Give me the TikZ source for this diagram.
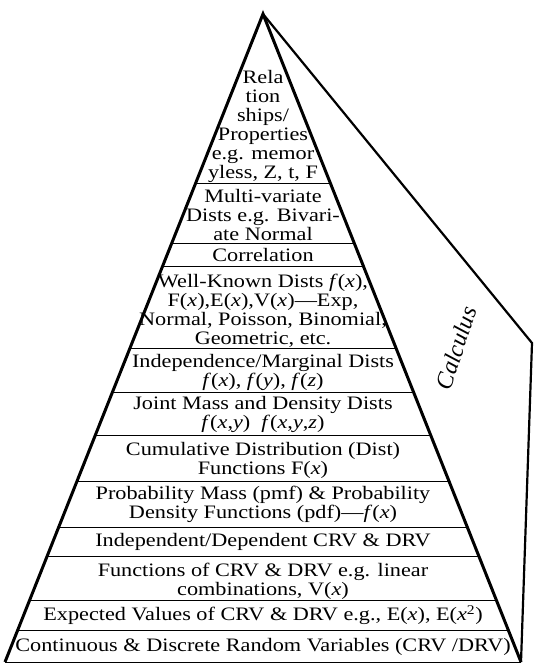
\documentclass[tikz,border=0pt]{standalone}
\usepackage{fontspec}
\setmainfont[FakeStretch=1.17]{Liberation Serif}
\newfontfamily\sidefont{Liberation Serif}
\usetikzlibrary{calc}
\begin{document}
\begin{tikzpicture}[x=1pt,y=-1pt,
  layer/.style={align=center, inner sep=0pt, font=\fontsize{19}{19}\selectfont},
  edge/.style={line width=3pt, line join=miter},
  rim/.style={line width=2.2pt, line join=miter},
  divider/.style={line width=0.9pt}]
\useasboundingbox (0,0) rectangle (533,664);

% corners of the pyramid
\coordinate (apex)   at (263,14);
\coordinate (bl)     at (5,662);
\coordinate (br)     at (521,662);
\coordinate (corner) at (532,343);

% layer texts, top to bottom
\node[layer] (rel)   at (263,126) {Rela\\tion\\ships/\\Properties\\e.g. memor\\yless, Z, t, F};
\node[layer] (multi) at (263,215) {Multi-variate\\Dists e.g. Bivari-\\ate Normal};
\node[layer] (corr)  at (263,255) {Correlation};
\node[layer] (known) at (263,311) {Well-Known Dists \textit{f}(\textit{x}),\\F(\textit{x}),E(\textit{x}),V(\textit{x})—Exp,\\Normal, Poisson, Binomial,\\Geometric, etc.};
\node[layer] (marg)  at (263,372) {Independence/Marginal Dists\\\textit{f}(\textit{x}), \textit{f}(\textit{y}), \textit{f}(\textit{z})};
\node[layer] (joint) at (263,414) {Joint Mass and Density Dists\\\textit{f}(\textit{x},\textit{y})\ \ \textit{f}(\textit{x},\textit{y},\textit{z})};
\node[layer] (cdf)   at (263,460) {Cumulative Distribution (Dist)\\Functions F(\textit{x})};
\node[layer] (pmf)   at (263,504) {Probability Mass (pmf) \& Probability\\Density Functions (pdf)—\textit{f}(\textit{x})};
\node[layer] (indep) at (263,542) {Independent/Dependent CRV \& DRV};
\node[layer] (func)  at (263,581) {Functions of CRV \& DRV e.g. linear\\combinations, V(\textit{x})};
\node[layer] (expv)  at (263,615) {Expected Values of CRV \& DRV e.g., E(\textit{x}), E(\textit{x}\textsuperscript{2})};
\node[layer] (rv)    at (263,647) {Continuous \& Discrete Random Variables (CRV /DRV)};

% side face label
\node[inner sep=0pt, rotate=72, font=\sidefont\fontsize{24}{24}\selectfont\itshape] (calc) at (456,348) {Calculus};

% dividers between the layers
\foreach \yy in {183,243,266,348,392,435,481,527,556,600,630,662}
  \draw[divider] ($(apex)!{(\yy-14)/648}!(bl)$) -- ($(apex)!{(\yy-14)/648}!(br)$);

% side face
\draw[rim] (apex) -- (corner) -- (br);
% front face outline
\draw[edge] (bl) -- (apex) -- (br);
\end{tikzpicture}
\end{document}
